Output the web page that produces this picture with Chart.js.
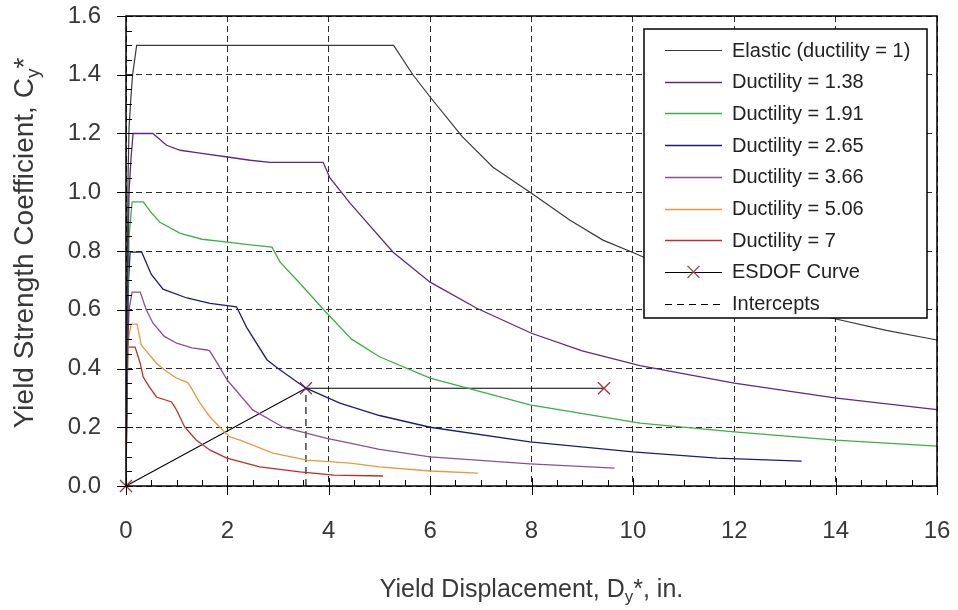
<!DOCTYPE html>
<html>
<head>
<meta charset="utf-8">
<script src="https://cdn.jsdelivr.net/npm/chart.js@4.4.1/dist/chart.umd.min.js"></script>
<style>
  html, body { margin: 0; padding: 0; background: #fff; }
  #wrap { width: 958px; height: 610px; }
</style>
</head>
<body>
<div id="wrap"><canvas id="spectra" width="958" height="610"></canvas></div>
<script>
// Demand curves: [yield displacement Dy* (in.), yield strength coefficient Cy*]
const elastic = [[0, 0], [0.02, 0.55], [0.04, 1.05], [0.06, 1.22], [0.1, 1.33], [0.13, 1.4], [0.17, 1.45],
  [0.21, 1.5], [5.28, 1.5], [5.66, 1.4], [6.02, 1.32], [6.63, 1.19], [7.24, 1.085], [8.0, 0.997],
  [8.76, 0.905], [9.41, 0.837], [10.0, 0.795], [11.0, 0.72], [12.0, 0.66], [13.0, 0.61],
  [13.94, 0.571], [15.0, 0.53], [16.0, 0.497]];
const duct138 = [[0, 0], [0.03, 0.7], [0.06, 1.0], [0.1, 1.12], [0.14, 1.2], [0.53, 1.2], [0.8, 1.16],
  [1.07, 1.143], [1.46, 1.133], [2.0, 1.12], [2.45, 1.109], [2.84, 1.102], [3.89, 1.102], [4.02, 1.05],
  [4.42, 0.963], [5.27, 0.796], [6.0, 0.694], [6.92, 0.605], [8.0, 0.52], [9.0, 0.46], [10.14, 0.41],
  [12.0, 0.35], [13.98, 0.3], [16.0, 0.26]];
const duct191 = [[0, 0], [0.03, 0.6], [0.06, 0.85], [0.12, 0.967], [0.34, 0.967], [0.5, 0.93],
  [0.67, 0.898], [1.07, 0.86], [1.5, 0.84], [2.0, 0.83], [2.5, 0.82], [2.88, 0.813], [3.04, 0.762],
  [3.43, 0.69], [3.9, 0.6], [4.45, 0.5], [5.0, 0.44], [6.0, 0.367], [7.97, 0.276], [10.14, 0.214],
  [12.0, 0.184], [14.0, 0.156], [16.0, 0.136]];
const duct265 = [[0, 0], [0.02, 0.4], [0.05, 0.7], [0.08, 0.796], [0.31, 0.796], [0.5, 0.72],
  [0.73, 0.67], [1.2, 0.64], [1.66, 0.622], [2.18, 0.61], [2.38, 0.54], [2.78, 0.43], [3.0, 0.4],
  [3.55, 0.333], [4.22, 0.282], [5.0, 0.24], [6.0, 0.2], [7.97, 0.15], [10.0, 0.116], [11.66, 0.095],
  [13.33, 0.085]];
const duct366 = [[0, 0], [0.02, 0.4], [0.06, 0.6], [0.12, 0.66], [0.28, 0.66], [0.4, 0.6], [0.53, 0.555],
  [0.75, 0.51], [1.0, 0.486], [1.3, 0.47], [1.6, 0.463], [1.65, 0.46], [1.8, 0.418], [2.0, 0.36],
  [2.5, 0.259], [3.1, 0.2], [3.96, 0.162], [4.42, 0.146], [5.0, 0.125], [6.0, 0.099], [7.97, 0.075],
  [9.64, 0.061]];
const duct506 = [[0, 0], [0.02, 0.35], [0.05, 0.5], [0.1, 0.551], [0.22, 0.551], [0.3, 0.48], [0.6, 0.418],
  [0.8, 0.39], [1.0, 0.367], [1.22, 0.352], [1.3, 0.33], [1.46, 0.282], [1.66, 0.235], [1.85, 0.2],
  [2.05, 0.167], [2.25, 0.156], [2.9, 0.112], [3.57, 0.088], [4.42, 0.078], [5.0, 0.065], [6.0, 0.051],
  [6.94, 0.044]];
const duct7 = [[0, 0], [0.02, 0.3], [0.04, 0.473], [0.18, 0.473], [0.28, 0.418], [0.34, 0.371],
  [0.45, 0.34], [0.6, 0.303], [0.9, 0.286], [1.0, 0.258], [1.16, 0.2], [1.39, 0.156], [1.66, 0.122],
  [1.99, 0.095], [2.64, 0.065], [3.43, 0.048], [4.1, 0.037], [5.07, 0.034]];
// equivalent SDOF capacity curve and the intercept at the performance point
const esdof = [[0, 0], [3.55, 0.333], [9.43, 0.333]];
const intercept = [[3.55, 0], [3.55, 0.333]];

const curveLabels = ['Elastic (ductility = 1)', 'Ductility = 1.38', 'Ductility = 1.91', 'Ductility = 2.65',
  'Ductility = 3.66', 'Ductility = 5.06', 'Ductility = 7'];
const curveColors = ['#3a3a3a', '#5c2a86', '#3cb043', '#1c1c78', '#8e4f92', '#e89a3c', '#bb2f2a'];
const curves = [elastic, duct138, duct191, duct265, duct366, duct506, duct7];

const xTicks = [0, 2, 4, 6, 8, 10, 12, 14, 16];
const yTicks = [0, 0.2, 0.4, 0.6, 0.8, 1.0, 1.2, 1.4, 1.6];

const FONT = '"Liberation Sans", Arial, sans-serif';
const TEXT = '#383838';

function pts(arr) {
  return arr.map(p => ({x: p[0], y: p[1]}));
}

const datasets = curves.map((c, i) => ({
  label: curveLabels[i],
  data: pts(c),
  borderColor: curveColors[i],
  borderWidth: i === 0 ? 1.2 : 1.3,
  pointRadius: 0
}));
datasets.push({
  label: 'ESDOF Curve',
  data: pts(esdof),
  borderColor: '#000',
  borderWidth: 1.1,
  pointStyle: 'crossRot',
  pointRadius: 8.5,
  pointBorderColor: '#a8323c',
  pointBorderWidth: 1.3,
  clip: false
});
datasets.push({
  label: 'Intercepts',
  data: pts(intercept),
  borderColor: '#000',
  borderWidth: 1.1,
  borderDash: [7, 5],
  pointRadius: 0
});

// draws text with a subscript part, anchored at its centre
function drawSubText(ctx, parts, cx, cy, size) {
  const subSize = Math.round(size * 0.68);
  let w = 0;
  parts.forEach(p => {
    ctx.font = (p.sub ? subSize : size) + 'px ' + FONT;
    w += ctx.measureText(p.t).width;
  });
  let x = cx - w / 2;
  ctx.textAlign = 'left';
  ctx.textBaseline = 'alphabetic';
  parts.forEach(p => {
    ctx.font = (p.sub ? subSize : size) + 'px ' + FONT;
    ctx.fillText(p.t, x, cy + size * 0.35 + (p.sub ? size * 0.22 : 0));
    x += ctx.measureText(p.t).width;
  });
}

// keep the plot area fixed, without room reserved for half-labels
function noScalePadding(scale) {
  scale.paddingLeft = 0;
  scale.paddingRight = 0;
  scale.paddingTop = 0;
  scale.paddingBottom = 0;
}

const decorations = {
  id: 'decorations',
  afterDraw(chart) {
    const ctx = chart.ctx;
    const area = chart.chartArea;
    const xs = chart.scales.x, ys = chart.scales.y;
    ctx.save();

    // plot frame
    ctx.strokeStyle = '#000';
    ctx.lineWidth = 1.5;
    ctx.strokeRect(area.left, area.top, area.right - area.left, area.bottom - area.top);

    // major ticks cross the axes, minor ticks point inwards
    ctx.lineWidth = 1;
    ctx.beginPath();
    for (let i = 0; i <= 32; i++) {
      const px = Math.round(xs.getPixelForValue(i * 0.5)) + 0.5;
      const major = i % 4 === 0;
      ctx.moveTo(px, area.bottom + (major ? 9 : 0));
      ctx.lineTo(px, area.bottom - (major ? 8 : 6));
    }
    for (let i = 0; i <= 32; i++) {
      const py = Math.round(ys.getPixelForValue(i * 0.05)) + 0.5;
      const major = i % 4 === 0;
      ctx.moveTo(area.left - (major ? 9 : 0), py);
      ctx.lineTo(area.left + (major ? 7 : 6), py);
    }
    ctx.stroke();

    // axis titles
    ctx.fillStyle = TEXT;
    drawSubText(ctx, [{t: 'Yield Displacement, D'}, {t: 'y', sub: true}, {t: '*, in.'}],
      (area.left + area.right) / 2, 588, 25);
    ctx.save();
    ctx.translate(23, 243);
    ctx.rotate(-Math.PI / 2);
    drawSubText(ctx, [{t: 'Yield Strength Coefficient, C'}, {t: 'y', sub: true}, {t: '*'}], 0, 0, 28);
    ctx.restore();

    // legend box inside the plot
    const lx = area.right - 293, ly = area.top + 13, lw = 283, lh = 289;
    ctx.fillStyle = '#fff';
    ctx.fillRect(lx, ly, lw, lh);
    ctx.strokeStyle = '#000';
    ctx.lineWidth = 1.5;
    ctx.strokeRect(lx, ly, lw, lh);
    chart.data.datasets.forEach((ds, i) => {
      const y = ly + 21 + i * 31.7;
      ctx.strokeStyle = ds.borderColor;
      ctx.lineWidth = ds.borderWidth;
      ctx.setLineDash(ds.borderDash || []);
      ctx.beginPath();
      ctx.moveTo(lx + 21, Math.round(y) + 0.5);
      ctx.lineTo(lx + 78, Math.round(y) + 0.5);
      ctx.stroke();
      ctx.setLineDash([]);
      if (ds.pointStyle === 'crossRot') {
        const cx = lx + 49.5, r = 6;
        ctx.strokeStyle = ds.pointBorderColor;
        ctx.lineWidth = 1.3;
        ctx.beginPath();
        ctx.moveTo(cx - r, y - r); ctx.lineTo(cx + r, y + r);
        ctx.moveTo(cx - r, y + r); ctx.lineTo(cx + r, y - r);
        ctx.stroke();
      }
      ctx.fillStyle = '#222';
      ctx.font = '20px ' + FONT;
      ctx.textAlign = 'left';
      ctx.textBaseline = 'middle';
      ctx.fillText(ds.label, lx + 88, y + 1);
    });
    ctx.restore();
  }
};

const gridOpts = {color: '#2a2a2a', lineWidth: 1, drawTicks: false};

new Chart(document.getElementById('spectra'), {
  type: 'scatter',
  data: {datasets: datasets},
  options: {
    responsive: false,
    animation: false,
    showLine: true,
    layout: {padding: {top: 16, right: 21, left: 0, bottom: 0}},
    plugins: {legend: {display: false}, tooltip: {enabled: false}},
    scales: {
      x: {
        type: 'linear', min: 0, max: 16,
        afterFit(scale) { scale.height = 124; noScalePadding(scale); },
        afterBuildTicks(scale) { scale.ticks = xTicks.map(v => ({value: v})); },
        grid: gridOpts,
        border: {display: false, dash: [6, 4]},
        ticks: {
          padding: 31, color: TEXT, font: {family: FONT, size: 24},
          maxRotation: 0, callback: v => String(v)
        }
      },
      y: {
        type: 'linear', min: 0, max: 1.6,
        afterFit(scale) { scale.width = 126; noScalePadding(scale); },
        afterBuildTicks(scale) { scale.ticks = yTicks.map(v => ({value: v})); },
        grid: gridOpts,
        border: {display: false, dash: [6, 4]},
        ticks: {
          padding: 25, color: TEXT, font: {family: FONT, size: 24},
          callback: v => Number(v).toFixed(1)
        }
      }
    }
  },
  plugins: [decorations]
});
</script>
</body>
</html>
